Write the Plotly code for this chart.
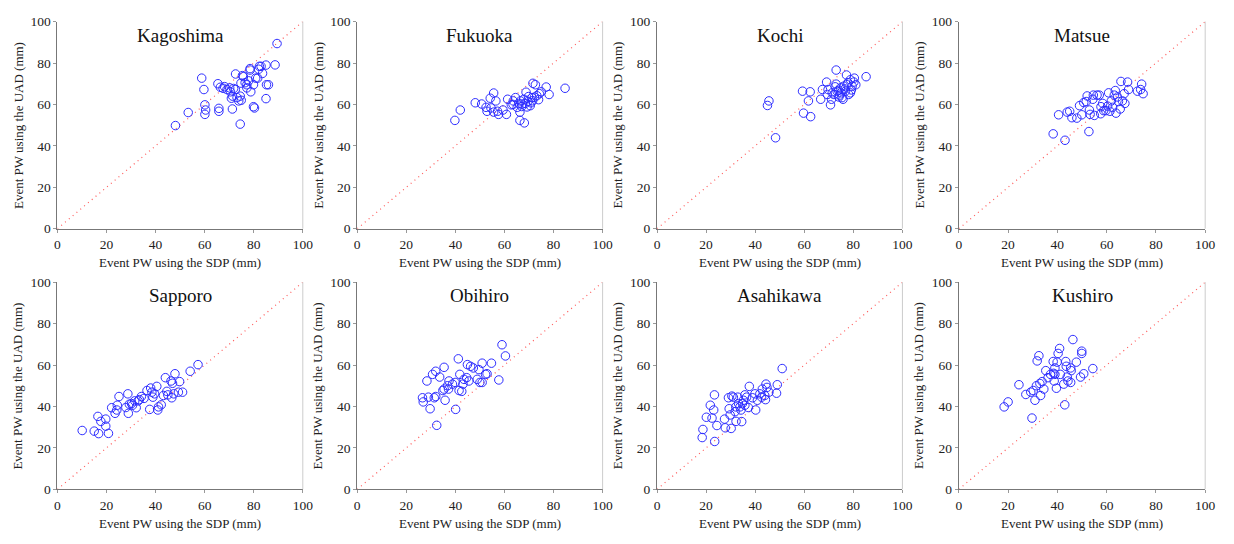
import plotly.graph_objects as go

W, H = 1234, 544

stations = ["Kagoshima", "Fukuoka", "Kochi", "Matsue", "Sapporo", "Obihiro", "Asahikawa", "Kushiro"]

kagoshima_sdp = [89.5, 88.7, 85, 83, 82.3, 82, 78.5, 78.5, 80.8, 81.6, 83.6, 77.9, 75.8, 75.4, 72.6, 74.8, 77.2, 79.9, 77.2, 78.8, 85.2, 86, 85, 79.9, 80.3, 74.5, 71.3, 65.8, 65.8, 60.4, 60.1, 60.1, 53.3, 48.1, 58.8, 59.7, 65.4, 66.4, 68.1, 69.1, 70.2, 71.8, 72.5, 70.5, 70.9, 73.2, 73.9, 74.5, 74.9, 71.4, 76.5, 67.5]
kagoshima_uad = [89.4, 79.1, 79, 78.4, 78.4, 77, 77.3, 76.6, 72.7, 72.7, 75, 71.4, 73.4, 73.9, 74.7, 70.3, 69.5, 69.5, 68, 66.1, 69.5, 69.5, 62.8, 58.9, 58.3, 50.5, 57.8, 58.1, 56.7, 57.3, 59.8, 55.2, 56.1, 49.8, 72.7, 67.2, 70, 68.3, 68.6, 67.2, 68, 67.7, 67.2, 66.1, 63, 63.3, 61.7, 64, 62, 64, 70.5, 67.8]

fukuoka_sdp = [39.8, 42, 48.1, 50.7, 52.5, 52.9, 54.2, 55.6, 56.5, 54.5, 55.6, 57.2, 57.6, 59.4, 60.8, 61.3, 62.8, 63.6, 64.5, 65.2, 66.3, 66.3, 68.1, 66.5, 67.2, 67.9, 68.8, 69.6, 70.5, 71.2, 71.6, 72.6, 73.9, 74.2, 75, 77, 78.2, 84.7, 68.5, 69.8, 70.8, 72.2, 67, 65.8, 69.2, 71.5, 73.2, 63.5]
fukuoka_uad = [52.3, 57.3, 60.8, 60.2, 58.6, 56.7, 63, 65.5, 61.7, 58.3, 56.3, 56.7, 55.2, 57.3, 55.2, 62.5, 59.8, 61.7, 63.3, 58.6, 56.3, 52.3, 51.1, 61.7, 60.2, 62.5, 65.9, 61.4, 59.4, 63.3, 70.2, 69.5, 62.3, 65.2, 66.1, 68.4, 64.8, 67.8, 60.5, 63.8, 60.8, 63.5, 59.0, 60.5, 58.8, 61.8, 64.2, 60.0]

kochi_sdp = [45, 45.6, 48.3, 59.7, 62.6, 59.3, 62.4, 61.7, 66.7, 67.4, 69.1, 69.4, 69.7, 70.7, 71.1, 71.4, 73, 73, 73.4, 74.1, 74.8, 75, 75.4, 76.1, 76.8, 77.2, 77.4, 78.1, 78.8, 79.5, 78.8, 80.4, 81, 85.2, 72.1, 74.4, 75.8, 76.5, 77.8, 79.2, 74.0, 72.6, 80.2]
kochi_uad = [59.5, 61.7, 43.9, 55.8, 54.1, 66.4, 66.1, 61.7, 62.5, 67.2, 70.8, 64.8, 67.2, 59.8, 62.5, 65.6, 76.6, 69.8, 66.4, 63.6, 68, 65.6, 63.3, 68.8, 66.4, 74.2, 69.5, 64.8, 71.9, 68.8, 65.6, 72.7, 69.5, 73.4, 64.8, 64.5, 62.5, 67.5, 70.5, 67.0, 66.8, 68.5, 70.8]

matsue_sdp = [38.3, 43.1, 40.5, 44, 45, 45.9, 47.9, 49, 49.9, 50.7, 51.7, 52.8, 52.1, 53, 53.3, 54.4, 54.6, 55, 56.1, 57, 57.6, 57.7, 58.4, 58.8, 59.7, 60.4, 60.8, 61.3, 61.9, 63.1, 63.5, 63.8, 64.4, 64.8, 65.5, 65.8, 67.1, 67.4, 68.5, 68.9, 72.5, 73.8, 74.2, 74.8, 62.4, 66.4]
matsue_uad = [45.8, 42.7, 55, 56.3, 56.7, 53.6, 53.4, 59.4, 55, 60.9, 61.4, 46.9, 64.1, 57.3, 55.2, 62.5, 64.5, 54.7, 64.5, 64.5, 55.5, 58.9, 60.5, 57, 57, 59.2, 65.6, 56.7, 61.7, 64.5, 66.7, 55.8, 63.6, 61.4, 57.8, 71.1, 65.2, 60.5, 70.8, 67.2, 66.4, 67.2, 69.8, 65.2, 58.6, 61.7]

sapporo_sdp = [10.1, 15, 16.5, 16.8, 17.7, 19.7, 19.7, 20.8, 22.1, 23.5, 24.2, 24.4, 25.1, 27.9, 28.7, 28.9, 29.3, 30.2, 31.5, 32.1, 32.9, 33.4, 34.2, 35.3, 36.5, 37.6, 38, 38.5, 38.9, 39.6, 40.5, 40.9, 41.2, 42.3, 43.2, 44, 44.6, 45, 46.3, 46.6, 46.9, 47.9, 49.3, 49.8, 51, 54.1, 57.3, 47.4, 30.6]
sapporo_uad = [28.4, 28.1, 35.2, 26.9, 32.8, 30.5, 33.9, 27, 39.4, 36.7, 38.3, 40.6, 44.8, 39.5, 46.1, 36.7, 41.1, 41.4, 42.7, 39.4, 42.7, 43.3, 44.8, 43.9, 47.7, 38.6, 48.9, 46.9, 44.5, 46.1, 49.7, 38.3, 39.8, 40.8, 45.3, 53.9, 47.3, 45.6, 52.3, 44.2, 51.2, 55.8, 46.9, 52, 46.9, 57, 60.2, 46.1, 40.6]

obihiro_sdp = [26.6, 26.9, 28.4, 29, 29.7, 30.7, 31.4, 32, 32, 32.4, 33.6, 34.9, 35.4, 35.8, 35.4, 36.8, 37.4, 37.2, 38.8, 40.1, 39.9, 41.2, 41.5, 41.8, 42.6, 43.1, 43.5, 44.6, 44.9, 45.5, 46.2, 47.3, 48.9, 49.6, 50, 50.9, 50.9, 52.3, 52.9, 54.7, 57.7, 59, 60.4]
obihiro_uad = [44.2, 42.2, 52.3, 44.5, 38.9, 55.5, 44.2, 57, 44.8, 30.9, 54.2, 47.7, 58.9, 43, 48.4, 50, 52.3, 48.4, 50.8, 38.6, 51.6, 63, 47.7, 55.5, 47.3, 50.8, 53.1, 53.9, 60.2, 52.3, 59.4, 58.6, 53.1, 57.8, 51.6, 60.9, 51.6, 55.5, 55.8, 60.9, 52.8, 69.8, 64.4]

asahikawa_sdp = [18.4, 18.7, 20.1, 21.7, 22.4, 23.1, 23.4, 23.5, 24.4, 27.5, 27.8, 29.1, 29.4, 29.8, 30.2, 30.5, 31.1, 31.8, 32.1, 32.2, 32.9, 33.2, 33.8, 34.2, 34.5, 35.2, 35.8, 36.5, 37.2, 37.6, 38.9, 39.9, 40.2, 40.9, 41.9, 42.6, 42.9, 43.9, 44.2, 44.4, 44.8, 45.6, 48.7, 49, 51, 34.8, 35.8]
asahikawa_uad = [25, 28.9, 34.8, 40.6, 34.4, 38.3, 45.6, 23.1, 30.8, 33.9, 29.7, 44.2, 38.9, 35.9, 29.4, 45, 44.5, 37.5, 39.8, 32.8, 44.5, 41.4, 39.8, 38.3, 32.7, 43, 45.6, 44.5, 39.5, 49.7, 44.2, 46.1, 38.3, 43, 46.1, 44.5, 48.4, 45.3, 43.3, 50.8, 49.2, 46.9, 46.4, 50.5, 58.3, 41.4, 40.6]

kushiro_sdp = [18.4, 20, 24.4, 27.2, 29.2, 29.7, 30.2, 30.9, 31.5, 31.8, 32.5, 32.9, 33.2, 33.8, 34.5, 35.3, 36.2, 37.2, 38.3, 38.7, 39, 39, 39.6, 39.9, 40.3, 40.9, 41.2, 42.6, 43, 43.4, 43.6, 44, 44.3, 45.4, 45.6, 45.4, 46.3, 47.7, 49.4, 49.9, 49.9, 50.7, 54.4, 38.5]
kushiro_uad = [39.8, 42.2, 50.5, 45.8, 46.9, 34.4, 47.7, 43, 50, 62, 64.5, 51.1, 45.3, 52, 48.4, 57.3, 53.9, 55.5, 61.7, 52.3, 55.5, 58.6, 48.8, 61.4, 65.6, 68, 55.5, 50.8, 40.8, 61.7, 59.4, 54.2, 52.3, 58.6, 57.3, 51.6, 72.3, 61.4, 54.2, 66.7, 65.6, 55.8, 58.3, 56]

series = [
    (kagoshima_sdp, kagoshima_uad),
    (fukuoka_sdp, fukuoka_uad),
    (kochi_sdp, kochi_uad),
    (matsue_sdp, matsue_uad),
    (sapporo_sdp, sapporo_uad),
    (obihiro_sdp, obihiro_uad),
    (asahikawa_sdp, asahikawa_uad),
    (kushiro_sdp, kushiro_uad),
]

ticks = [0, 20, 40, 60, 80, 100]
tick_text = ["0", "20", "40", "60", "80", "100"]
diag = [0, 100]

x_title = "Event PW using the SDP (mm)"
y_title = "Event PW using the UAD (mm)"

col_px = [(55, 303), (358, 606), (661, 909), (966, 1215)]
row_px = [(15, 228), (283, 496)]

FONT = "Liberation Serif, Times New Roman, serif"

fig = go.Figure()
layout = dict(
    width=W, height=H,
    margin=dict(l=0, r=0, t=0, b=0),
    paper_bgcolor="white", plot_bgcolor="white",
    showlegend=False,
    font=dict(family=FONT, size=13, color="#222"),
)
annotations = []
shapes = []

for i, name in enumerate(stations):
    r, c = divmod(i, 4)
    k = i + 1
    xa = "x" if k == 1 else f"x{k}"
    ya = "y" if k == 1 else f"y{k}"
    xl = "xaxis" if k == 1 else f"xaxis{k}"
    yl = "yaxis" if k == 1 else f"yaxis{k}"
    x0, x1 = col_px[c]
    top, bot = row_px[r]
    layout[xl] = dict(
        domain=[x0 / W, x1 / W], anchor=ya, range=[0, 100],
        tickvals=ticks, ticktext=tick_text, showgrid=False, zeroline=False,
        showline=True, linecolor="#777", linewidth=1,
        ticks="outside", ticklen=3, tickcolor="#999",
        tickfont=dict(family=FONT, size=13.5, color="#222"),
    )
    layout[yl] = dict(
        domain=[1 - bot / H, 1 - top / H], anchor=xa, range=[0, 100],
        tickvals=ticks, ticktext=tick_text, showgrid=False, zeroline=False,
        showline=True, linecolor="#777", linewidth=1,
        ticks="outside", ticklen=3, tickcolor="#999",
        tickfont=dict(family=FONT, size=13.5, color="#222"),
    )
    sdp, uad = series[i]
    fig.add_trace(go.Scatter(
        x=diag, y=diag, mode="lines", xaxis=xa, yaxis=ya,
        line=dict(color="rgba(255,70,70,0.9)", width=1.2, dash="1px,4px"),
        hoverinfo="skip",
    ))
    fig.add_trace(go.Scatter(
        x=sdp, y=uad, mode="markers", xaxis=xa, yaxis=ya, name=name,
        marker=dict(symbol="circle-open", size=8.5, color="rgb(45,45,255)", line=dict(width=1)),
    ))
    shapes.append(dict(type="line", xref=f"{xa} domain", yref=f"{ya} domain",
                       x0=1, x1=1, y0=0, y1=1, line=dict(color="#cccccc", width=1)))
    annotations.append(dict(text=name, xref=xa, yref=ya, x=50, y=93.5,
                            showarrow=False, xanchor="center", yanchor="middle",
                            font=dict(family=FONT, size=19, color="#111")))
    annotations.append(dict(text=x_title, xref=f"{xa} domain", yref="paper",
                            x=0.5, y=1 - (bot + 35) / H, showarrow=False,
                            xanchor="center", yanchor="middle",
                            font=dict(family=FONT, size=13, color="#222")))
    annotations.append(dict(text=y_title, xref="paper", yref=f"{ya} domain",
                            x=(x0 - 40) / W, y=0.5, showarrow=False, textangle=-90,
                            xanchor="center", yanchor="middle",
                            font=dict(family=FONT, size=13, color="#222")))

layout["annotations"] = annotations
layout["shapes"] = shapes
fig.update_layout(**layout)
fig.write_html("out.html")
